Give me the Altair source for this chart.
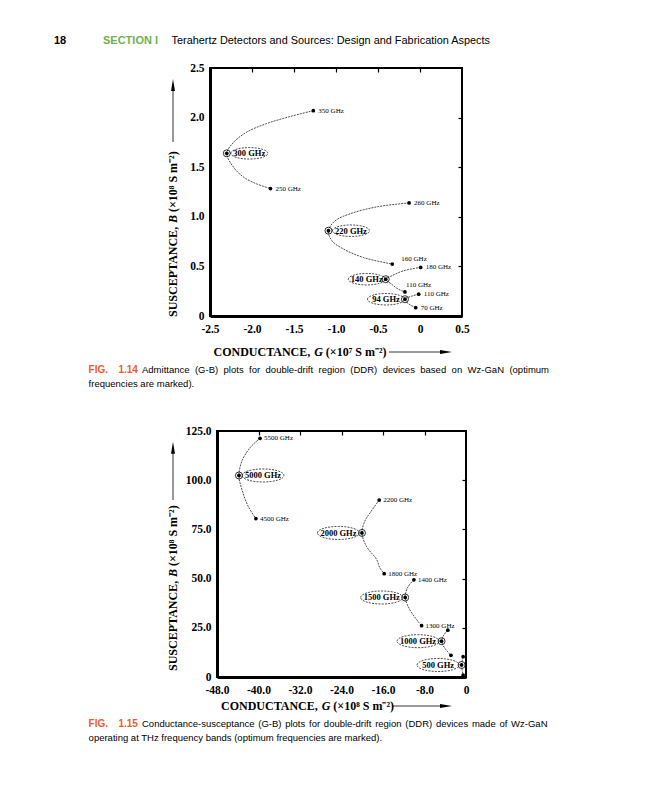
import altair as alt
import pandas as pd

# ===================== DATA =====================
# Fig. 1.14  G in units of 1e7 S m^-2, B in units of 1e8 S m^-2
F14_CURVE_ID = ["300"] * 10 + ["220"] * 9 + ["140"] * 7 + ["94"] * 5
F14_CURVE_G = [-1.27, -1.55, -1.825, -2.06, -2.22, -2.30, -2.22, -2.10, -1.94, -1.78,
               -0.13, -0.515, -0.833, -1.01, -1.09, -1.05, -0.91, -0.675, -0.33,
               0.008, -0.20, -0.337, -0.408, -0.337, -0.258, -0.179,
               -0.016, -0.099, -0.179, -0.139, -0.051]
F14_CURVE_B = [2.07, 2.01, 1.94, 1.855, 1.75, 1.64, 1.50, 1.40, 1.33, 1.285,
               1.14, 1.10, 1.03, 0.96, 0.86, 0.76, 0.675, 0.59, 0.523,
               0.49, 0.455, 0.405, 0.371, 0.32, 0.27, 0.243,
               0.22, 0.20, 0.169, 0.125, 0.084]
F14_END_LABEL = ["350 GHz", "250 GHz", "260 GHz", "160 GHz", "180 GHz", "110 GHz", "110 GHz", "70 GHz"]
F14_END_G = [-1.27, -1.78, -0.13, -0.33, 0.008, -0.179, -0.016, -0.051]
F14_END_B = [2.07, 1.285, 1.14, 0.523, 0.49, 0.243, 0.22, 0.084]
F14_OPT_LABEL = ["300 GHz", "220 GHz", "140 GHz", "94 GHz"]
F14_OPT_G = [-2.30, -1.09, -0.408, -0.179]
F14_OPT_B = [1.64, 0.86, 0.371, 0.169]
F14_X_DOMAIN = [-2.5, 0.5]
F14_Y_DOMAIN = [0.0, 2.5]
F14_X_TICKS = [-2.5, -2.0, -1.5, -1.0, -0.5, 0.0, 0.5]
F14_Y_TICKS = [0.0, 0.5, 1.0, 1.5, 2.0, 2.5]

# Fig. 1.15  G in units of 1e8 S m^-2, B in units of 1e8 S m^-2
F15_CURVE_ID = ["5000"] * 7 + ["2000"] * 8 + ["1500"] * 6 + ["1000"] * 5 + ["500"] * 3
F15_CURVE_G = [-39.7, -41.6, -43.2, -43.76, -43.2, -42.0, -40.5,
               -16.73, -18.5, -19.5, -20.06, -19.2, -17.2, -16.6, -15.77,
               -10.04, -11.14, -11.72, -10.81, -9.5, -8.56,
               -3.5, -4.26, -4.71, -4.07, -2.9,
               -0.55, -0.85, -0.55]
F15_CURVE_B = [121.3, 116.6, 109.7, 102.4, 95.3, 86.8, 80.5,
               89.9, 83.4, 79.2, 73.2, 66.4, 59.6, 55.4, 52.5,
               49.4, 46.0, 40.4, 34.1, 29.1, 26.1,
               23.8, 21.4, 18.2, 14.6, 11.0,
               10.3, 6.1, 1.0]
F15_END_LABEL = ["5500 GHz", "4500 GHz", "2200 GHz", "1800 GHz", "1400 GHz", "1300 GHz", "", "", "", ""]
F15_END_G = [-39.7, -40.5, -16.73, -15.77, -10.04, -8.56, -3.5, -2.9, -0.55, -0.55]
F15_END_B = [121.3, 80.5, 89.9, 52.5, 49.4, 26.1, 23.8, 11.0, 10.3, 1.0]
F15_OPT_LABEL = ["5000 GHz", "2000 GHz", "1500 GHz", "1000 GHz", "500 GHz"]
F15_OPT_G = [-43.76, -20.06, -11.72, -4.71, -0.85]
F15_OPT_B = [102.4, 73.2, 40.4, 18.2, 6.1]
F15_X_DOMAIN = [-48.0, 0.0]
F15_Y_DOMAIN = [0.0, 125.0]
F15_X_TICKS = [-48.0, -40.0, -32.0, -24.0, -16.0, -8.0, 0.0]
F15_Y_TICKS = [0.0, 25.0, 50.0, 75.0, 100.0, 125.0]

# Texts
HEADER_NUM = "18"
HEADER_SECTION = "SECTION I"
HEADER_TITLE = "Terahertz Detectors and Sources: Design and Fabrication Aspects"
F14_XTITLE = ["CONDUCTANCE,", "G", "(\u00d710\u2077 S m\u207b\u00b2)"]
F15_XTITLE = ["CONDUCTANCE,", "G", "(\u00d710\u2078 S m\u207b\u00b2)"]
YTITLE = ["SUSCEPTANCE,", "B", "(\u00d710\u2078 S m\u207b\u00b2)"]
CAP14_FIG = ["FIG.", "1.14"]
CAP14_L1 = "Admittance (G-B) plots for double-drift region (DDR) devices based on Wz-GaN (optimum"
CAP14_L2 = "frequencies are marked)."
CAP15_FIG = ["FIG.", "1.15"]
CAP15_L1 = "Conductance-susceptance (G-B) plots for double-drift region (DDR) devices made of Wz-GaN"
CAP15_L2 = "operating at THz frequency bands (optimum frequencies are marked)."

# ===================== LAYOUT / STYLE =====================
W, H = 632, 784
def P(v):
    return v - 8  # page pixel -> view pixel

SERIF = "Liberation Serif"
SANS = "Liberation Sans"
ORANGE = "#ef5a28"
GREEN = "#74b04f"

F14_END_PLACE = ["r", "r", "r", "ur", "r", "u", "r", "r"]
F14_OPT_SIDE = ["right", "right", "left", "left"]
F15_END_PLACE = ["r"] * 6 + ["none"] * 4
F15_OPT_SIDE = ["right", "left", "left", "left", "left"]

ELLIPSE = ("M-1,0C-1,-0.171,-0.552,-0.31,0,-0.31C0.552,-0.31,1,-0.171,1,0"
           "C1,0.171,0.552,0.31,0,0.31C-0.552,0.31,-1,0.171,-1,0Z")
HEAD_R = "M1,0L-1,-0.33L-1,0.33Z"
HEAD_U = "M0,-1L-0.33,1L0.33,1Z"

XEXPR = "datum.value == 0 ? '0' : (datum.value < 0 ? '-' : '') + format(abs(datum.value), '.1f')"
YEXPR = "datum.value == 0 ? '0' : format(datum.value, '.1f')"

# Helvetica (Liberation Sans) advance widths, chars 32..122
_HW = [278, 278, 355, 556, 556, 889, 667, 191, 333, 333, 389, 584, 278, 333, 278, 278,
       556, 556, 556, 556, 556, 556, 556, 556, 556, 556,
       278, 278, 584, 584, 584, 556, 1015,
       667, 667, 722, 722, 667, 611, 778, 722, 278, 500, 667, 556, 833, 722, 778, 667, 778,
       722, 667, 611, 722, 667, 944, 667, 667, 611,
       278, 278, 278, 469, 556, 333,
       556, 556, 500, 556, 556, 278, 556, 556, 222, 222, 500, 222, 833, 556, 556, 556, 556,
       333, 500, 278, 556, 500, 722, 500, 500, 500]
HELV = {chr(32 + i): w for i, w in enumerate(_HW)}
TIMESB = {'C': 722, 'O': 778, 'N': 722, 'D': 722, 'U': 722, 'T': 667, 'A': 722, 'E': 667,
          'S': 556, 'P': 611, ',': 250, ' ': 250}
TIMESBI = {'G': 722, 'B': 667}


def tw(s, table, fs):
    return sum(table.get(c, 500) for c in s) / 1000.0 * fs


ONE = pd.DataFrame({"k": [0]})


def txt(s, x, y, size, font=SANS, weight="normal", style="normal", color="black", align="left", angle=0):
    return alt.Chart(ONE).mark_text(text=s, align=align, baseline="middle", font=font, fontSize=size,
                                    fontWeight=weight, fontStyle=style, color=color, angle=angle).encode(
        x=alt.value(P(x)), y=alt.value(P(y)))


def hrule(x1, x2, y):
    return alt.Chart(ONE).mark_rule(color="black", strokeWidth=0.8).encode(
        x=alt.value(P(x1)), x2=alt.value(P(x2)), y=alt.value(P(y)))


def vrule(x, y1, y2):
    return alt.Chart(ONE).mark_rule(color="black", strokeWidth=0.8).encode(
        x=alt.value(P(x)), y=alt.value(P(y1)), y2=alt.value(P(y2)))


def head(x, y, path):
    return alt.Chart(ONE).mark_point(shape=path, size=144, filled=True, color="black", opacity=1).encode(
        x=alt.value(P(x)), y=alt.value(P(y)))


def justified(line, x0, x1, y, fs):
    words = line.split(" ")
    widths = [tw(w, HELV, fs) for w in words]
    gap = (x1 - x0 - sum(widths)) / (len(words) - 1)
    xs, cur = [], x0
    for w in widths:
        xs.append(P(cur))
        cur += w + gap
    df = pd.DataFrame({"w": words, "x": xs, "y": [P(y)] * len(words)})
    return alt.Chart(df).mark_text(align="left", baseline="middle", font=SANS, fontSize=fs, color="black").encode(
        x=alt.X("x:Q", scale=None, axis=None), y=alt.Y("y:Q", scale=None, axis=None), text="w:N")


def panel(cid, cg, cb, elab, eg, eb, eplace, olab, og, ob, oside, xdom, ydom, xr, yr,
          xticks, yticks, place_off, ell_w, opt_dx):
    xr = [P(v) for v in xr]
    yr = [P(v) for v in yr]
    curve = pd.DataFrame({"cid": cid, "G": cg, "B": cb, "i": list(range(len(cg)))})
    ends = pd.DataFrame({"lab": elab, "G": eg, "B": eb, "place": eplace})
    opts = pd.DataFrame({"lab": olab, "G": og, "B": ob, "side": oside})
    xs = alt.Scale(domain=xdom, range=xr, nice=False, zero=False)
    ys = alt.Scale(domain=ydom, range=yr, nice=False, zero=False)
    common = dict(title=None, grid=False, ticks=False, tickSize=0, domainColor="black", domainWidth=3,
                  labelFont=SERIF, labelFontSize=11.5, labelFontWeight="bold", labelColor="black",
                  labelFlush=False, labelOverlap=False)
    ax_b = alt.Axis(orient="bottom", offset=yr[0] - H, values=xticks, labelPadding=7, labelExpr=XEXPR, **common)
    ax_l = alt.Axis(orient="left", offset=-xr[0], values=yticks, labelPadding=6, labelExpr=YEXPR, **common)
    X = alt.X("G:Q", scale=xs, axis=ax_b)
    Y = alt.Y("B:Q", scale=ys, axis=ax_l)
    layers = [
        alt.Chart(curve).mark_line(interpolate="catmull-rom", color="black", strokeWidth=0.7,
                                   strokeDash=[2, 1]).encode(x=X, y=Y, detail="cid:N", order="i:Q"),
        alt.Chart(ends).mark_point(filled=True, size=14, color="black", opacity=1).encode(x=X, y=Y),
        alt.Chart(opts).mark_point(shape="circle", size=49, filled=False, color="black", opacity=1,
                                   strokeWidth=0.8).encode(x=X, y=Y),
        alt.Chart(opts).mark_point(filled=True, size=14, color="black", opacity=1).encode(x=X, y=Y),
    ]
    for key, (dx, dy) in place_off.items():
        sub = ends[ends.place == key]
        if len(sub):
            layers.append(alt.Chart(sub).mark_text(align="left", baseline="middle", dx=dx, dy=dy, font=SERIF,
                                                   fontSize=7, color="black").encode(x=X, y=Y, text="lab:N"))
    for side, dx in opt_dx.items():
        sub = opts[opts.side == side]
        if len(sub):
            layers.append(alt.Chart(sub).mark_point(shape=ELLIPSE, size=ell_w ** 2, filled=False, color="black",
                                                    opacity=1, strokeWidth=0.7, strokeDash=[2, 1.2],
                                                    xOffset=dx).encode(x=X, y=Y))
            layers.append(alt.Chart(sub).mark_text(align="center", baseline="middle", dx=dx, font=SERIF,
                                                   fontSize=8.5, fontWeight="bold", color="black").encode(
                x=X, y=Y, text="lab:N"))
    main = alt.layer(*layers)
    frame_df = pd.DataFrame({"x0": [xdom[0]], "x1": [xdom[1]], "y0": [ydom[0]], "y1": [ydom[1]]})
    ax_t = alt.Axis(orient="top", offset=-(yr[1] + 4), values=xticks[1:-1], labels=False, domain=False,
                    grid=False, ticks=True, tickSize=4, tickColor="black", tickWidth=1.2, title=None)
    ax_r = alt.Axis(orient="right", offset=xr[1] - 4 - W, values=yticks[1:-1], labels=False, domain=False,
                    grid=False, ticks=True, tickSize=4, tickColor="black", tickWidth=1.2, title=None)
    frame = alt.Chart(frame_df).mark_rect(fillOpacity=0, stroke="black", strokeWidth=2).encode(
        x=alt.X("x0:Q", scale=xs, axis=ax_t), x2="x1:Q",
        y=alt.Y("y0:Q", scale=ys, axis=ax_r), y2="y1:Q")
    return main, frame


def xtitle(parts, x0, y, fs=12):
    w1 = tw(parts[0], TIMESB, fs)
    sp = tw(" ", TIMESB, fs)
    wg = tw(parts[1], TIMESBI, fs)
    return [txt(parts[0], x0, y, fs, font=SERIF, weight="bold"),
            txt(parts[1], x0 + w1 + sp, y, fs, font=SERIF, weight="bold", style="italic"),
            txt(parts[2], x0 + w1 + sp + wg + sp, y, fs, font=SERIF, weight="bold")]


def ytitle(parts, x, yb, fs=12):
    w1 = tw(parts[0], TIMESB, fs)
    sp = tw(" ", TIMESB, fs)
    wb = tw(parts[1], TIMESBI, fs)
    return [txt(parts[0], x, yb, fs, font=SERIF, weight="bold", angle=270),
            txt(parts[1], x, yb - w1 - sp, fs, font=SERIF, weight="bold", style="italic", angle=270),
            txt(parts[2], x, yb - w1 - sp - wb - sp, fs, font=SERIF, weight="bold", angle=270)]


m1, f1 = panel(F14_CURVE_ID, F14_CURVE_G, F14_CURVE_B, F14_END_LABEL, F14_END_G, F14_END_B, F14_END_PLACE,
               F14_OPT_LABEL, F14_OPT_G, F14_OPT_B, F14_OPT_SIDE, F14_X_DOMAIN, F14_Y_DOMAIN,
               [210, 462], [316, 68], F14_X_TICKS, F14_Y_TICKS,
               {"r": (5, 0), "ur": (9, -5), "u": (1, -7)}, 37, {"right": 22.5, "left": -19})
m2, f2 = panel(F15_CURVE_ID, F15_CURVE_G, F15_CURVE_B, F15_END_LABEL, F15_END_G, F15_END_B, F15_END_PLACE,
               F15_OPT_LABEL, F15_OPT_G, F15_OPT_B, F15_OPT_SIDE, F15_X_DOMAIN, F15_Y_DOMAIN,
               [217, 466], [677, 431], F15_X_TICKS, F15_Y_TICKS,
               {"r": (4, 0)}, 42, {"right": 24, "left": -23.5})

deco = [
    txt(HEADER_NUM, 54, 41, 11, weight="bold"),
    txt(HEADER_SECTION, 103, 41, 11, weight="bold", color=GREEN),
    txt(HEADER_TITLE, 171.5, 41, 10.9),
    # fig 1.14 titles
    *xtitle(F14_XTITLE, 213.5, 352),
    hrule(389, 441, 352), head(446, 352, HEAD_R),
    *ytitle(YTITLE, 173, 317),
    vrule(173, 142, 90), head(173, 85, HEAD_U),
    # caption 1.14
    txt(CAP14_FIG[0], 88.6, 369.5, 10, weight="bold", color=ORANGE),
    txt(CAP14_FIG[1], 118.4, 369.5, 10, weight="bold", color=ORANGE),
    justified(CAP14_L1, 142, 549, 369.5, 9.5),
    txt(CAP14_L2, 88.6, 383.5, 9.5),
    # fig 1.15 titles
    *xtitle(F15_XTITLE, 221, 706),
    hrule(392, 441, 706), head(446, 706, HEAD_R),
    *ytitle(YTITLE, 173, 671),
    vrule(173, 500, 453), head(173, 447.7, HEAD_U),
    # caption 1.15
    txt(CAP15_FIG[0], 88.6, 724, 10, weight="bold", color=ORANGE),
    txt(CAP15_FIG[1], 118.4, 724, 10, weight="bold", color=ORANGE),
    justified(CAP15_L1, 142, 547.5, 724, 9.5),
    txt(CAP15_L2, 88.6, 737.5, 9.5),
]

chart = alt.layer(m1, f1, m2, f2, *deco).resolve_scale(
    x="independent", y="independent").properties(width=W, height=H, padding=0).configure_view(stroke=None)

chart.save("out.html", embed_options={"renderer": "svg", "actions": False})
